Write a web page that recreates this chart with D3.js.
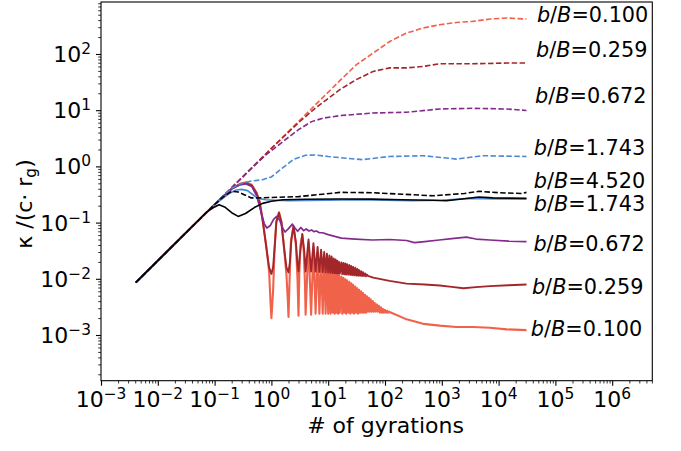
<!DOCTYPE html>
<html><head><meta charset="utf-8">
<script src="https://cdn.jsdelivr.net/npm/d3@7"></script>
<style>
body{margin:0;background:#fff}
text{font-family:"DejaVu Sans",sans-serif;fill:#000}
</style>
</head><body>
<svg id="c" width="681" height="451"></svg>
<script>
// ---- data: diffusion coefficient vs. number of gyrations ----
const ratios = ["0.100", "0.259", "0.672", "1.743", "4.520"];
const colors = ["#f0624a", "#a3262b", "#832a8c", "#4a89d4", "#000000"];

// perpendicular coefficient (solid lines), [gyrations, kappa]
const perp100 = [[0.0041,0.0086],[0.1,0.21],[0.2,0.40],[0.28,0.49],[0.36,0.52],[0.45,0.47],[0.55,0.34],[0.62,0.24],[0.71,0.105],[0.82,0.035],[0.91,0.0136],[0.97,0.0035],[1.0,0.002],[1.07,0.006],[1.14,0.035],[1.22,0.105],[1.36,0.152],[1.5,0.105],[1.67,0.035],[1.84,0.0118],[1.95,0.004],[2.0,0.0021],[2.08,0.008],[2.2,0.045],[2.45,0.085],[2.7,0.04],[2.88,0.01],[3.0,0.0022],[3.1,0.012],[3.25,0.04],[3.5,0.060],[3.72,0.03],[3.9,0.008],[4.0,0.0023],[4.5,0.045],[5,0.0023],[5.5,0.036],[6,0.0024],[6.5,0.030],[7,0.0024],[7.5,0.025],[8,0.0024],[8.5,0.021],[9,0.0024],[9.5,0.018],[10,0.0024],[10.5,0.016],[11,0.0024],[11.5,0.0145],[12,0.0025],[12.5,0.0135],[13,0.0024],[13.5,0.0125],[14,0.0025],[14.5,0.012],[15,0.0024],[15.5,0.0115],[16,0.0025],
  [17,0.0110],[17.7,0.0024],[18.5,0.0104],[19.2,0.0025],[20,0.0098],[20.7,0.0024],[21.5,0.0094],[22.5,0.0025],[23.5,0.0088],[24.5,0.0024],[25.5,0.0083],[26.5,0.0025],[27.5,0.0078],[28.7,0.0024],[30,0.0073],[31.2,0.0025],[32.5,0.0068],[33.7,0.0024],[35,0.0064],[36.5,0.0025],[38,0.0060],[39.5,0.0025],[41,0.0056],[42.7,0.0025],[44.5,0.0052],[46.2,0.0025],[48,0.0049],[50,0.0026],[52,0.0046],[54,0.0026],[56,0.0043],[58.5,0.0026],[61,0.0040],[63.5,0.0026],[66,0.0037],[69,0.0026],[72,0.0035],[75,0.0026],[78,0.0033],[81.5,0.0025],[85,0.0031],[88.5,0.0025],[92,0.0029],[96,0.0025],[100,0.0028],[104.5,0.0025],[109,0.0027],[113.5,0.0025],[118,0.0026],
  [240,0.0019],[470,0.00158],[920,0.00147],[1800,0.00139],[3500,0.00139],[7000,0.00135],[14000,0.00126],[31000,0.00122]];

const perp259 = [[0.0041,0.0086],[0.1,0.21],[0.2,0.40],[0.28,0.48],[0.36,0.50],[0.45,0.46],[0.55,0.33],[0.62,0.23],[0.71,0.10],[0.82,0.034],[0.91,0.016],[1.0,0.0122],[1.07,0.016],[1.14,0.036],[1.22,0.10],[1.36,0.15],[1.5,0.10],[1.67,0.036],[1.84,0.016],[2.0,0.013],[2.12,0.02],[2.25,0.05],[2.45,0.087],[2.7,0.045],[2.88,0.018],[3.0,0.0135],[3.15,0.025],[3.5,0.063],[3.8,0.03],[4.0,0.0135],[4.5,0.050],[5,0.0135],[5.5,0.043],[6,0.0134],[6.5,0.037],[7,0.0133],[7.5,0.033],[8,0.0132],[8.5,0.030],[9,0.013],[9.5,0.028],[10,0.0129],[10.5,0.026],[11,0.0128],[11.5,0.025],[12,0.0127],[12.5,0.023],[13,0.0126],[13.5,0.022],[14,0.0125],[14.5,0.021],[15,0.0124],[15.5,0.020],[16,0.0123],
  [17,0.0196],[17.7,0.0121],[18.5,0.0191],[19.2,0.012],[20,0.0187],[20.7,0.0119],[21.5,0.0182],[22.5,0.0118],[23.5,0.0176],[24.5,0.0117],[25.5,0.0169],[26.5,0.0116],[27.5,0.0163],[28.7,0.0115],[30,0.0157],[31.2,0.0114],[32.5,0.0150],[33.7,0.0113],[35,0.0143],[36.5,0.0113],[38,0.0137],[39.5,0.0112],[41,0.0131],[42.7,0.0112],[44.5,0.0125],[46.2,0.0111],[48,0.0119],[50,0.0113],
  [62,0.0105],[120,0.0092],[240,0.0082],[500,0.0079],[920,0.0076],[1500,0.0072],[2400,0.0068],[4000,0.0071],[7000,0.0074],[15000,0.0077],[31000,0.0079]];

const perp672 = [[0.0041,0.0086],[0.1,0.21],[0.2,0.40],[0.28,0.47],[0.35,0.49],[0.45,0.44],[0.55,0.30],[0.65,0.16],[0.75,0.095],[0.83,0.080],[0.95,0.088],[1.1,0.115],[1.24,0.129],[1.4,0.11],[1.6,0.078],[1.74,0.068],[2.0,0.078],[2.34,0.094],[2.6,0.08],[2.9,0.070],[3.3,0.082],[3.7,0.072],[4.1,0.077],[4.6,0.071],[5.1,0.074],[5.6,0.069],[6.2,0.071],[7,0.066],[8,0.066],[10,0.061],[13,0.057],[17,0.053],[30,0.051],[60,0.049],[120,0.050],[240,0.048],[330,0.044],[500,0.046],[900,0.049],[1500,0.052],[2700,0.055],[4000,0.051],[7000,0.049],[15000,0.047],[31000,0.046]];
const perp1743 = [[0.0041,0.0086],[0.1,0.21],[0.18,0.33],[0.24,0.38],[0.3,0.39],[0.38,0.37],[0.48,0.31],[0.58,0.27],[0.8,0.255],[1.2,0.25],[2,0.245],[4,0.248],[10,0.252],[30,0.255],[100,0.25],[300,0.245],[1000,0.25],[3000,0.27],[10000,0.265],[31000,0.265]];
const perp4520 = [[0.0041,0.0086],[0.07,0.15],[0.1,0.19],[0.12,0.208],[0.15,0.19],[0.2,0.15],[0.26,0.129],[0.35,0.145],[0.5,0.185],[0.7,0.22],[1,0.24],[1.6,0.255],[4,0.26],[16,0.263],[60,0.262],[200,0.255],[700,0.25],[1200,0.245],[2500,0.265],[4500,0.285],[8000,0.275],[31000,0.27]];

// parallel coefficient (dashed lines)
const par100 = [[0.0041,0.0086],[16,33.5],[31.4,64.5],[62,104],[121,167],[238,235],[466,290],[917,331],[1800,364],[3500,380],[7000,418],[14000,437],[31000,418]];
const par259 = [[0.0041,0.0086],[1,2.09],[3,6],[6,11],[16,23.2],[31,34.9],[62,49],[121,56.5],[238,56.5],[466,60],[917,67],[3500,67],[14000,69],[31000,69]];
const par672 = [[0.0041,0.0086],[0.1,0.21],[0.5,1.03],[0.8,1.6],[1.2,2.2],[2,3.3],[3,4.5],[5,6.2],[8,7.2],[16,8.0],[60,8.9],[240,9.2],[900,10.5],[3500,10.8],[14000,10.5],[31000,9.9]];
const par1743 = [[0.0041,0.0086],[0.1,0.21],[0.2,0.41],[0.3,0.5],[0.45,0.55],[0.7,0.58],[1,0.65],[1.6,0.95],[2.5,1.35],[4,1.58],[6,1.6],[10,1.5],[20,1.4],[40,1.32],[120,1.5],[470,1.55],[1800,1.35],[5300,1.55],[31000,1.5]];
const par4520 = [[0.0041,0.0086],[0.1,0.21],[0.15,0.3],[0.2,0.36],[0.26,0.35],[0.34,0.31],[0.44,0.275],[0.6,0.275],[1,0.28],[3,0.29],[8,0.32],[16,0.345],[60,0.34],[200,0.32],[700,0.3],[2500,0.33],[4500,0.36],[10000,0.34],[25000,0.33],[31000,0.345]];

// curve labels and their anchors (gyrations, kappa)
const labelText = ["0.100", "0.259", "0.672", "1.743", "4.520", "1.743", "0.672", "0.259", "0.100"];
const labelX = [4.72e4, 4.55e4, 4.37e4, 4.15e4, 4.15e4, 4.15e4, 4.1e4, 3.86e4, 3.7e4];
const labelY = [376, 89.5, 13.6, 1.61, 0.418, 0.163, 0.0316, 0.00543, 0.00097];

const xMajor = [-3, -2, -1, 0, 1, 2, 3, 4, 5, 6];
const yMajor = [-3, -2, -1, 0, 1, 2];

// ---- layout ----
const svg = d3.select("#c");
const L = 101, R = 652.3, T = 2, B = 380.7;
const x = d3.scaleLog().domain([1e-3, Math.pow(10, 6.706)]).range([L, R]);
const y = d3.scaleLog().domain([Math.pow(10, -3.813), Math.pow(10, 2.925)]).range([B, T]);

svg.append("defs").append("clipPath").attr("id", "clip")
  .append("rect").attr("x", L).attr("y", T).attr("width", R - L).attr("height", B - T);

const plot = svg.append("g").attr("clip-path", "url(#clip)");
const line = d3.line().x(d => x(d[0])).y(d => y(d[1]));

function minors(lo, hi) {
  const out = [];
  for (let e = lo; e <= hi; e++) for (let k = 2; k <= 9; k++) out.push(k * Math.pow(10, e));
  return out;
}

// ---- curves ----
const lwSolid = [2.1, 1.9, 1.7, 1.7, 1.6];
const perps = [perp100, perp259, perp672, perp1743, perp4520];
const pars = [par100, par259, par672, par1743, par4520];

ratios.forEach((r, i) => {
  const c = colors[i];
  plot.append("path").attr("d", line(perps[i])).attr("fill", "none")
    .attr("stroke", c).attr("stroke-width", lwSolid[i]).attr("stroke-linejoin", "round");
  plot.append("path").attr("d", line(pars[i])).attr("fill", "none")
    .attr("stroke", c).attr("stroke-width", 1.6).attr("stroke-dasharray", "5.5,2.4");
});

// ---- axes ----
const ax = svg.append("g");
ax.append("g").attr("transform", `translate(0,${B})`)
  .call(d3.axisBottom(x).tickValues(xMajor.map(e => Math.pow(10, e))).tickSize(5).tickFormat(""))
  .call(s => s.select(".domain").remove())
  .selectAll(".tick line").attr("stroke-width", 1.1);
ax.append("g").attr("transform", `translate(0,${B})`)
  .call(d3.axisBottom(x).tickValues(minors(-3, 6).filter(v => v <= x.domain()[1])).tickSize(2.8).tickFormat(""))
  .call(s => s.select(".domain").remove())
  .selectAll(".tick line").attr("stroke-width", 0.8);

ax.append("g").attr("transform", `translate(${L},0)`)
  .call(d3.axisLeft(y).tickValues(yMajor.map(e => Math.pow(10, e))).tickSize(5).tickFormat(""))
  .call(s => s.select(".domain").remove())
  .selectAll(".tick line").attr("stroke-width", 1.1);
ax.append("g").attr("transform", `translate(${L},0)`)
  .call(d3.axisLeft(y).tickValues(minors(-4, 2).filter(v => v >= y.domain()[0] && v <= y.domain()[1])).tickSize(2.8).tickFormat(""))
  .call(s => s.select(".domain").remove())
  .selectAll(".tick line").attr("stroke-width", 0.8);

svg.append("rect").attr("x", L).attr("y", T).attr("width", R - L).attr("height", B - T)
  .attr("fill", "none").attr("stroke", "#000").attr("stroke-width", 1.1);

const sup = e => (e < 0 ? "\u2212" + (-e) : String(e));
xMajor.forEach(e => {
  const t = svg.append("text").attr("x", x(Math.pow(10, e))).attr("y", 407)
    .attr("text-anchor", "middle").attr("font-size", 22);
  t.append("tspan").text("10");
  t.append("tspan").attr("dy", -8).attr("font-size", 15.4).text(sup(e));
});
yMajor.forEach(e => {
  const t = svg.append("text").attr("x", 91).attr("y", y(Math.pow(10, e)) + 8)
    .attr("text-anchor", "end").attr("font-size", 22);
  t.append("tspan").text("10");
  t.append("tspan").attr("dy", -8).attr("font-size", 15.4).text(sup(e));
});

// axis titles
svg.append("text").attr("x", 385.5).attr("y", 433).attr("text-anchor", "middle")
  .attr("font-size", 22).text("# of gyrations");
const yl = svg.append("text").attr("transform", "translate(32,204) rotate(-90)")
  .attr("text-anchor", "middle").attr("font-size", 22);
yl.append("tspan").text("\u03ba /(c\u00b7 r");
yl.append("tspan").attr("font-size", 15.4).attr("dy", 4).text("g");
yl.append("tspan").attr("dy", -4).text(")");

// curve labels
labelText.forEach((s, i) => {
  const t = svg.append("text").attr("x", x(labelX[i])).attr("y", y(labelY[i])).attr("font-size", 20.8);
  t.append("tspan").attr("font-style", "italic").text("b");
  t.append("tspan").text("/");
  t.append("tspan").attr("font-style", "italic").text("B");
  t.append("tspan").text("=" + s);
});
</script>
</body></html>
